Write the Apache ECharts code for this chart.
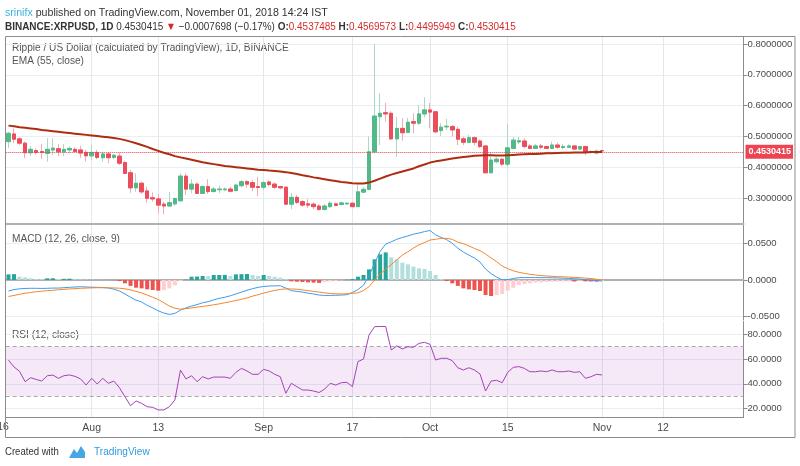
<!DOCTYPE html>
<html>
<head>
<meta charset="utf-8">
<script src="https://cdn.jsdelivr.net/npm/echarts@6/dist/echarts.min.js"></script>
<style>
  html, body { margin: 0; padding: 0; background: #fff; }
  #chart { width: 800px; height: 466px; }
</style>
</head>
<body>
<div id="chart"></div>
<script>
// daily candles, 2018-07-17 .. 2018-11-01
const startDay = [2018, 6, 17];
const dayCount = 133; // visible days up to late November

const open = [0.483,0.508,0.492,0.478,0.447,0.454,0.451,0.445,0.456,0.460,
  0.450,0.456,0.458,0.456,0.448,0.437,0.448,0.431,0.443,0.432,
  0.436,0.415,0.382,0.333,0.348,0.323,0.301,0.297,0.280,0.274,
  0.281,0.291,0.371,0.329,0.345,0.315,0.337,0.321,0.327,0.327,
  0.329,0.324,0.340,0.353,0.350,0.337,0.335,0.352,0.345,0.337,
  0.335,0.280,0.302,0.288,0.281,0.280,0.274,0.263,0.272,0.281,
  0.279,0.281,0.283,0.272,0.319,0.328,0.450,0.564,0.577,0.575,
  0.492,0.526,0.513,0.548,0.543,0.573,0.586,0.580,0.519,0.531,
  0.532,0.523,0.492,0.481,0.496,0.485,0.469,0.382,0.418,0.426,
  0.410,0.461,0.482,0.485,0.469,0.461,0.469,0.467,0.461,0.472,
  0.464,0.465,0.469,0.459,0.467,0.449,0.446,0.4537485];
const close = [0.510,0.491,0.478,0.447,0.458,0.448,0.448,0.458,0.462,0.450,
  0.458,0.461,0.451,0.446,0.437,0.448,0.432,0.443,0.431,0.439,
  0.413,0.380,0.333,0.348,0.320,0.299,0.297,0.277,0.274,0.285,
  0.298,0.371,0.329,0.345,0.315,0.337,0.321,0.329,0.329,0.329,
  0.322,0.342,0.353,0.345,0.335,0.334,0.350,0.344,0.335,0.333,
  0.280,0.302,0.286,0.277,0.277,0.272,0.263,0.274,0.283,0.276,
  0.284,0.283,0.272,0.320,0.328,0.450,0.566,0.575,0.573,0.492,
  0.526,0.512,0.546,0.543,0.573,0.586,0.579,0.515,0.530,0.533,
  0.521,0.491,0.481,0.496,0.481,0.467,0.382,0.423,0.426,0.410,
  0.463,0.488,0.486,0.467,0.461,0.469,0.465,0.461,0.472,0.465,
  0.467,0.469,0.459,0.467,0.448,0.450,0.452,0.4530415];
const low = [0.462,0.478,0.472,0.429,0.436,0.442,0.426,0.418,0.440,0.436,
  0.436,0.445,0.449,0.430,0.418,0.423,0.426,0.418,0.413,0.426,
  0.407,0.378,0.317,0.320,0.313,0.285,0.288,0.250,0.247,0.272,
  0.275,0.288,0.310,0.315,0.313,0.313,0.313,0.318,0.316,0.322,
  0.318,0.322,0.334,0.334,0.322,0.306,0.327,0.337,0.330,0.328,
  0.278,0.264,0.280,0.272,0.267,0.263,0.258,0.259,0.268,0.273,
  0.276,0.278,0.270,0.272,0.316,0.325,0.445,0.472,0.548,0.488,
  0.434,0.486,0.510,0.510,0.537,0.562,0.526,0.510,0.501,0.521,
  0.499,0.472,0.472,0.478,0.470,0.462,0.380,0.380,0.413,0.404,
  0.400,0.460,0.475,0.462,0.458,0.460,0.458,0.459,0.460,0.460,
  0.458,0.462,0.456,0.455,0.439,0.444,0.441,0.4495949];
const high = [0.515,0.526,0.497,0.483,0.469,0.461,0.475,0.494,0.494,0.475,
  0.475,0.467,0.464,0.469,0.456,0.472,0.456,0.450,0.448,0.443,
  0.447,0.421,0.391,0.380,0.353,0.337,0.318,0.313,0.288,0.320,
  0.302,0.380,0.380,0.361,0.351,0.342,0.361,0.336,0.339,0.334,
  0.337,0.345,0.358,0.358,0.358,0.369,0.355,0.358,0.350,0.340,
  0.337,0.317,0.310,0.293,0.296,0.286,0.280,0.281,0.290,0.285,
  0.288,0.285,0.286,0.342,0.335,0.500,0.800,0.640,0.609,0.582,
  0.564,0.559,0.560,0.575,0.602,0.627,0.609,0.583,0.543,0.557,
  0.537,0.531,0.499,0.505,0.499,0.490,0.472,0.450,0.432,0.429,
  0.540,0.498,0.498,0.494,0.475,0.475,0.475,0.470,0.483,0.480,
  0.475,0.474,0.471,0.470,0.470,0.456,0.458,0.4569573];
const ema55 = [0.535,0.533,0.530,0.528,0.526,0.524,0.521,0.519,0.517,0.515,
  0.513,0.511,0.509,0.507,0.505,0.503,0.501,0.499,0.497,0.495,
  0.492,0.488,0.483,0.478,0.472,0.466,0.459,0.453,0.447,0.442,
  0.436,0.432,0.428,0.424,0.420,0.416,0.413,0.410,0.407,0.404,
  0.402,0.400,0.398,0.396,0.394,0.392,0.391,0.389,0.388,0.386,
  0.384,0.381,0.378,0.374,0.371,0.367,0.364,0.361,0.358,0.355,
  0.352,0.350,0.348,0.347,0.347,0.350,0.356,0.363,0.370,0.376,
  0.381,0.386,0.391,0.396,0.403,0.409,0.415,0.419,0.422,0.425,
  0.428,0.431,0.433,0.435,0.437,0.438,0.439,0.439,0.438,0.438,
  0.439,0.440,0.441,0.442,0.443,0.443,0.444,0.445,0.445,0.446,
  0.447,0.447,0.448,0.448,0.448,0.449,0.449,0.449];
const macdLine = [-0.015,-0.013,-0.012,-0.0115,-0.0113,-0.0113,-0.0115,-0.0113,-0.011,-0.011,
  -0.0105,-0.010,-0.0095,-0.0092,-0.0095,-0.0098,-0.010,-0.0103,-0.0108,-0.0125,
  -0.015,-0.019,-0.0235,-0.0275,-0.030,-0.0345,-0.038,-0.042,-0.045,-0.047,
  -0.0455,-0.041,-0.038,-0.0355,-0.0335,-0.031,-0.0295,-0.027,-0.025,-0.0235,
  -0.0215,-0.019,-0.0165,-0.014,-0.0118,-0.010,-0.0088,-0.0082,-0.008,-0.0078,
  -0.011,-0.0145,-0.0155,-0.0165,-0.018,-0.019,-0.0205,-0.021,-0.021,-0.0208,
  -0.0205,-0.020,-0.017,-0.013,-0.007,0.006,0.023,0.039,0.049,0.052,
  0.0555,0.058,0.060,0.0625,0.064,0.066,0.0675,0.0615,0.058,0.055,
  0.050,0.0435,0.038,0.034,0.030,0.0245,0.015,0.0085,0.004,0.0002,
  0.0005,0.002,0.0032,0.0033,0.0033,0.0033,0.0032,0.0032,0.003,0.0028,
  0.0025,0.0022,0.0018,0.0013,0.0005,-0.0003,-0.0008,-0.0014];
const signalLine = [-0.0225,-0.021,-0.0195,-0.018,-0.017,-0.016,-0.0153,-0.0145,-0.014,-0.0133,
  -0.0127,-0.0122,-0.0118,-0.0113,-0.011,-0.0107,-0.0105,-0.0105,-0.0106,-0.0108,
  -0.0112,-0.012,-0.0135,-0.0155,-0.0175,-0.0205,-0.0235,-0.0265,-0.031,-0.0355,
  -0.0385,-0.0398,-0.039,-0.038,-0.037,-0.036,-0.035,-0.0338,-0.0325,-0.031,
  -0.0295,-0.028,-0.0262,-0.0245,-0.022,-0.020,-0.0178,-0.016,-0.0142,-0.0128,
  -0.0122,-0.0122,-0.0125,-0.0135,-0.0145,-0.0155,-0.0165,-0.0175,-0.0183,-0.0188,
  -0.019,-0.0188,-0.0182,-0.0175,-0.0143,-0.009,0.000,0.008,0.015,0.021,
  0.0275,0.034,0.0385,0.0435,0.048,0.051,0.0545,0.0555,0.0568,0.0568,
  0.0555,0.0515,0.0495,0.0465,0.043,0.040,0.0355,0.030,0.025,0.019,
  0.0155,0.0125,0.0105,0.009,0.0078,0.0068,0.006,0.0055,0.005,0.0046,
  0.0043,0.004,0.0036,0.0032,0.0026,0.002,0.001,0.0];
const macdHist = [0.0077,0.008,0.0045,0.0036,0.0023,0.0014,0.0012,0.0023,0.0024,0.0014,
  0.0016,0.0018,0.001,0.0009,0.0008,0.0005,0.0003,0.0002,0.0001,-0.0003,
  -0.0014,-0.0045,-0.008,-0.0105,-0.0114,-0.0127,-0.0136,-0.0145,-0.0136,-0.0114,
  -0.0073,-0.0014,0.0005,0.0045,0.0047,0.0055,0.0053,0.0068,0.0069,0.007,
  0.0055,0.0077,0.008,0.0082,0.0068,0.0055,0.0068,0.0055,0.0045,0.0032,
  0.001,-0.0018,-0.0023,-0.0027,-0.0032,-0.0036,-0.004,-0.0027,-0.0018,-0.0012,
  -0.0005,0.0005,0.0014,0.0045,0.0068,0.0145,0.0282,0.035,0.0377,0.031,
  0.0282,0.0236,0.0214,0.0182,0.0159,0.015,0.0123,0.0068,0.0014,-0.0014,
  -0.0045,-0.008,-0.0114,-0.0127,-0.0136,-0.015,-0.0205,-0.0218,-0.0205,-0.0191,
  -0.0145,-0.0105,-0.0068,-0.0055,-0.0045,-0.0036,-0.0032,-0.0027,-0.0023,-0.0021,
  -0.0019,-0.0017,-0.002,-0.0009,-0.0018,-0.002,-0.0022,-0.0009];
const rsi12 = [59,53.5,50,41.7,44.9,43.5,42.2,46.5,47,44.4,
  46.5,47.1,46,43.9,39,44.4,39.8,44.4,40.4,42.2,
  36.9,29.6,22.4,26.2,24.3,21.6,21.1,19,19,21.6,
  27,51,43.9,46.5,41.7,45.7,43.9,45.4,45.4,45.4,
  44.4,49.2,52.4,50.3,47.6,47.6,51.6,50.3,47.6,45.7,
  32.4,40.4,37.7,35,35,34.2,33,35.8,40.4,39,
  40.9,41.2,37.7,57.8,59.9,79.2,85.9,86,86,67.1,
  70.4,68,69.8,69.3,72.5,73.3,71.7,59.1,60.5,60.5,
  58.6,52.9,51.1,52.9,51.1,47.9,34.2,42.2,42.8,40.9,
  49.2,53.2,53.8,52.4,49.7,49.7,50.3,49.7,51.1,49.7,
  49.7,50.3,49.2,49.7,44.4,45.7,47.6,47.1];

const lastPrice = 0.4530415;
const tickDays = ['2018-08-01','2018-08-13','2018-09-01','2018-09-17','2018-10-01','2018-10-15','2018-11-01','2018-11-12'];
const tickText = ['Aug','13','Sep','17','Oct','15','Nov','12'];
const priceTicks = [0.3, 0.4, 0.5, 0.6, 0.7, 0.8];
const macdTicks = [-0.05, 0, 0.05];
const rsiTicks = [20, 40, 60, 80];

const days = [];
for (let k = 0; k < dayCount; k++) {
  const d = new Date(Date.UTC(startDay[0], startDay[1], startDay[2] + k));
  days.push(d.toISOString().slice(0, 10));
}

const UP = '#53b987', DOWN = '#eb4d5c';
const GRID_V = '#e1e9ee', GRID_H = '#e9eef2';
const FONT = '"Liberation Sans", Arial, sans-serif';

const wickData = open.map((o, i) => [o, close[i], low[i], high[i]]);
const bodyData = open.map((o, i) => [o, close[i], Math.min(o, close[i]), Math.max(o, close[i])]);

const showTick = (idx, val) => tickDays.indexOf(val) >= 0;

function xAxisFor(gi, withLabels) {
  return {
    type: 'category', gridIndex: gi, data: days, boundaryGap: true,
    axisLine: withLabels ? { lineStyle: { color: '#8c8c8c' } } : { lineStyle: { color: '#b0b0b0', width: 2 } },
    axisTick: { show: false },
    axisLabel: {
      show: withLabels, interval: showTick, margin: 5,
      color: '#4a4a4a', fontSize: 10.5, fontFamily: FONT,
      formatter: v => tickText[tickDays.indexOf(v)]
    },
    splitLine: { show: true, interval: showTick, alignWithLabel: true, lineStyle: { color: GRID_V } }
  };
}

function yAxisFor(gi, min, max, ticks, digits) {
  return {
    type: 'value', gridIndex: gi, position: 'right', min: min, max: max,
    axisLine: { show: true, lineStyle: { color: '#8c8c8c' } },
    axisTick: { show: true, length: 4, customValues: ticks, lineStyle: { color: '#8c8c8c' } },
    axisLabel: { customValues: ticks, color: '#4a4a4a', fontSize: 9.5, fontFamily: FONT, margin: 4,
      formatter: v => v.toFixed(digits) },
    splitLine: { show: true, customValues: ticks, lineStyle: { color: GRID_H } }
  };
}

function label(text, x, y, sx, extra) {
  return Object.assign({
    type: 'text', x: x, y: y, scaleX: sx, silent: true,
    style: { text: text, font: '11px ' + FONT, fill: '#555', verticalAlign: 'top' }
  }, extra || {});
}

const chart = echarts.init(document.getElementById('chart'), null, { renderer: 'canvas' });

const option = {
  animation: false,
  backgroundColor: '#ffffff',
  grid: [
    { left: 5.7, right: 56.5, top: 36.5, height: 187.5 },
    { left: 5.7, right: 56.5, top: 225.5, height: 94.5 },
    { left: 5.7, right: 56.5, top: 321.5, height: 96 }
  ],
  xAxis: [xAxisFor(0, false), xAxisFor(1, false), xAxisFor(2, true)],
  yAxis: [
    yAxisFor(0, 0.2156, 0.8244, priceTicks, 7),
    yAxisFor(1, -0.0545, 0.0743, macdTicks, 4),
    yAxisFor(2, 12.93, 90.04, rsiTicks, 4)
  ],
  series: [
    {
      name: 'wicks', type: 'candlestick', xAxisIndex: 0, yAxisIndex: 0,
      data: wickData, barWidth: 4,
      itemStyle: { color: 'transparent', color0: 'transparent', borderColor: '#a9d8c3', borderColor0: '#f5a9b0', borderWidth: 1 },
      markLine: {
        silent: true, symbol: 'none',
        lineStyle: { color: '#e5414f', type: 'dotted', width: 1 },
        label: {
          position: 'end', distance: 2, formatter: lastPrice.toFixed(7),
          color: '#fff', backgroundColor: '#ec4452', padding: [3, 2, 2, 3],
          fontSize: 9, fontWeight: 'bold', fontFamily: FONT
        },
        data: [{ yAxis: lastPrice }]
      }
    },
    {
      name: 'bodies', type: 'candlestick', xAxisIndex: 0, yAxisIndex: 0,
      data: bodyData, barWidth: 4,
      itemStyle: { color: UP, color0: DOWN, borderColor: UP, borderColor0: DOWN, borderWidth: 1 }
    },
    {
      name: 'EMA', type: 'line', xAxisIndex: 0, yAxisIndex: 0, data: ema55,
      symbol: 'none', lineStyle: { color: '#ad2d10', width: 2 }, z: 5
    },
    {
      name: 'Histogram', type: 'bar', xAxisIndex: 1, yAxisIndex: 1, data: macdHist,
      barWidth: 4,
      itemStyle: {
        color: p => {
          const v = p.value, prev = p.dataIndex > 0 ? macdHist[p.dataIndex - 1] : 0;
          if (v >= 0) return v > prev ? '#26a69a' : '#b2dfdb';
          return v < prev ? '#ef5350' : '#ffcdd2';
        }
      }
    },
    {
      name: 'MACD', type: 'line', xAxisIndex: 1, yAxisIndex: 1, data: macdLine,
      symbol: 'none', lineStyle: { color: '#3d9ced', width: 1 }, z: 5
    },
    {
      name: 'Signal', type: 'line', xAxisIndex: 1, yAxisIndex: 1, data: signalLine,
      symbol: 'none', lineStyle: { color: '#f7852c', width: 1 }, z: 5
    },
    {
      name: 'RSI', type: 'line', xAxisIndex: 2, yAxisIndex: 2, data: rsi12,
      symbol: 'none', lineStyle: { color: '#a443b8', width: 1 }, z: 5,
      markArea: {
        silent: true,
        itemStyle: { color: 'rgba(156, 39, 176, 0.1)' },
        data: [[{ yAxis: 30 }, { yAxis: 70 }]]
      },
      markLine: {
        silent: true, symbol: 'none', label: { show: false },
        lineStyle: { color: '#a8a8a8', type: [4, 3], width: 1 },
        data: [{ yAxis: 70 }, { yAxis: 30 }]
      }
    }
  ],
  graphic: [
    { type: 'rect', silent: true, z: 100, shape: { x: 5.5, y: 36.5, width: 789.5, height: 401 },
      style: { fill: 'none', stroke: '#8c8c8c', lineWidth: 1 } },
    label('{a|srinifx} published on TradingView.com, November 01, 2018 14:24 IST', 5, 7, 0.965, {
      style: { text: '{a|srinifx} published on TradingView.com, November 01, 2018 14:24 IST',
        font: '11px ' + FONT, fill: '#333', verticalAlign: 'top',
        rich: { a: { fill: '#3bb3e4', font: '11px ' + FONT } } } }),
    label('', 5, 21, 0.905, {
      style: {
        text: '{b|BINANCE:XRPUSD, 1D} 0.4530415 {r|▼} −0.0007698 (−0.17%) {b|O:}{r|0.4537485} {b|H:}{r|0.4569573} {b|L:}{r|0.4495949} {b|C:}{r|0.4530415}',
        font: '11px ' + FONT, fill: '#333', verticalAlign: 'top',
        rich: {
          b: { font: 'bold 11px ' + FONT, fill: '#333' },
          r: { font: '11px ' + FONT, fill: '#d42c2c' }
        } } }),
    label('Ripple / US Dollar (calculated by TradingView), 1D, BINANCE', 12, 42.5, 0.92),
    label('EMA (55, close)', 12, 55.5, 0.92),
    label('MACD (12, 26, close, 9)', 12, 233, 0.92),
    label('RSI (12, close)', 12, 329, 0.92),
    { type: 'text', x: 3, y: 427, silent: true, style: {
      text: '16', font: '10.5px ' + FONT, fill: '#4a4a4a', align: 'center', verticalAlign: 'middle' } },
    label('Created with', 5, 446, 0.87, { style: { text: 'Created with', font: '11px ' + FONT, fill: '#333', verticalAlign: 'top' } }),
    { type: 'polygon', silent: true, shape: { points: [[69, 458], [74, 449], [77, 453], [81, 446], [85, 452], [85, 458]] },
      style: { fill: '#45a7e6' } },
    label('TradingView', 94, 446, 0.92, { style: { text: 'TradingView', font: '11px ' + FONT, fill: '#2f9ae0', verticalAlign: 'top' } })
  ]
};

chart.setOption(option);
</script>
</body>
</html>
